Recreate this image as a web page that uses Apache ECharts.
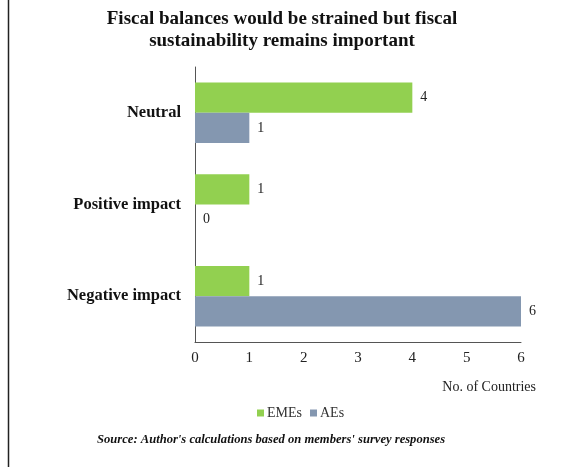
<!DOCTYPE html>
<html>
<head>
<meta charset="utf-8">
<script src="https://cdn.jsdelivr.net/npm/echarts@6/dist/echarts.min.js"></script>
<style>
  html, body { margin: 0; padding: 0; background: #fff; }
  #chart { width: 572px; height: 467px; }
</style>
</head>
<body>
<div id="chart"></div>
<script>
// Survey responses: number of countries per assessment
const categories = ['Negative impact', 'Positive impact', 'Neutral'];
const emesValues = [1, 1, 4];
const aesValues = [6, 0, 1];
const xTicks = [0, 1, 2, 3, 4, 5, 6];

const serif = '"Liberation Serif", "Times New Roman", serif';
const chart = echarts.init(document.getElementById('chart'));

const valueLabel = {
  show: true,
  position: 'right',
  distance: 8,
  color: '#222',
  fontFamily: serif,
  fontSize: 14
};

chart.setOption({
  animation: false,
  title: {
    text: 'Fiscal balances would be strained but fiscal\nsustainability remains important',
    left: 277,
    textAlign: 'center',
    top: 3,
    textStyle: {
      fontFamily: serif,
      fontWeight: 'bold',
      fontSize: 19,
      lineHeight: 22,
      color: '#111'
    }
  },
  legend: {
    data: ['EMEs', 'AEs'],
    left: 252,
    top: 401,
    itemWidth: 7,
    itemHeight: 7,
    itemGap: 8,
    icon: 'rect',
    textStyle: { fontFamily: serif, fontSize: 14, color: '#333', padding: [0, 0, 0, -2] }
  },
  grid: { left: 195, right: 51, top: 67, bottom: 125, containLabel: false },
  xAxis: {
    type: 'value',
    min: xTicks[0],
    max: xTicks[xTicks.length - 1],
    interval: 1,
    name: 'No. of Countries',
    nameLocation: 'end',
    nameGap: 0,
    nameTextStyle: {
      fontFamily: serif, fontSize: 14, color: '#222',
      align: 'right', verticalAlign: 'top', padding: [38, -15, 0, 0]
    },
    axisLine: { show: true, lineStyle: { color: '#555', width: 1 } },
    axisTick: { show: false },
    splitLine: { show: false },
    axisLabel: { fontFamily: serif, fontSize: 15, color: '#222', margin: 9 }
  },
  yAxis: {
    type: 'category',
    data: categories,
    axisLine: { show: true, lineStyle: { color: '#555', width: 1 } },
    axisTick: { show: false },
    axisLabel: {
      fontFamily: serif, fontSize: 16.5, fontWeight: 'bold', color: '#111', margin: 14
    }
  },
  series: [
    {
      name: 'EMEs',
      type: 'bar',
      data: emesValues,
      itemStyle: { color: '#92D050' },
      barGap: '0%',
      barCategoryGap: '34%',
      label: valueLabel
    },
    {
      name: 'AEs',
      type: 'bar',
      data: aesValues,
      itemStyle: { color: '#8497B0' },
      barGap: '0%',
      barCategoryGap: '34%',
      label: valueLabel
    }
  ],
  graphic: [
    {
      type: 'line',
      shape: { x1: 8.5, y1: 0, x2: 8.5, y2: 467 },
      style: { stroke: '#222', lineWidth: 1.5 }
    },
    {
      type: 'text',
      left: 97,
      top: 433,
      style: {
        text: "Source: Author's calculations based on members' survey responses",
        font: 'italic bold 12.6px ' + serif,
        fill: '#111'
      }
    }
  ]
});
</script>
</body>
</html>
